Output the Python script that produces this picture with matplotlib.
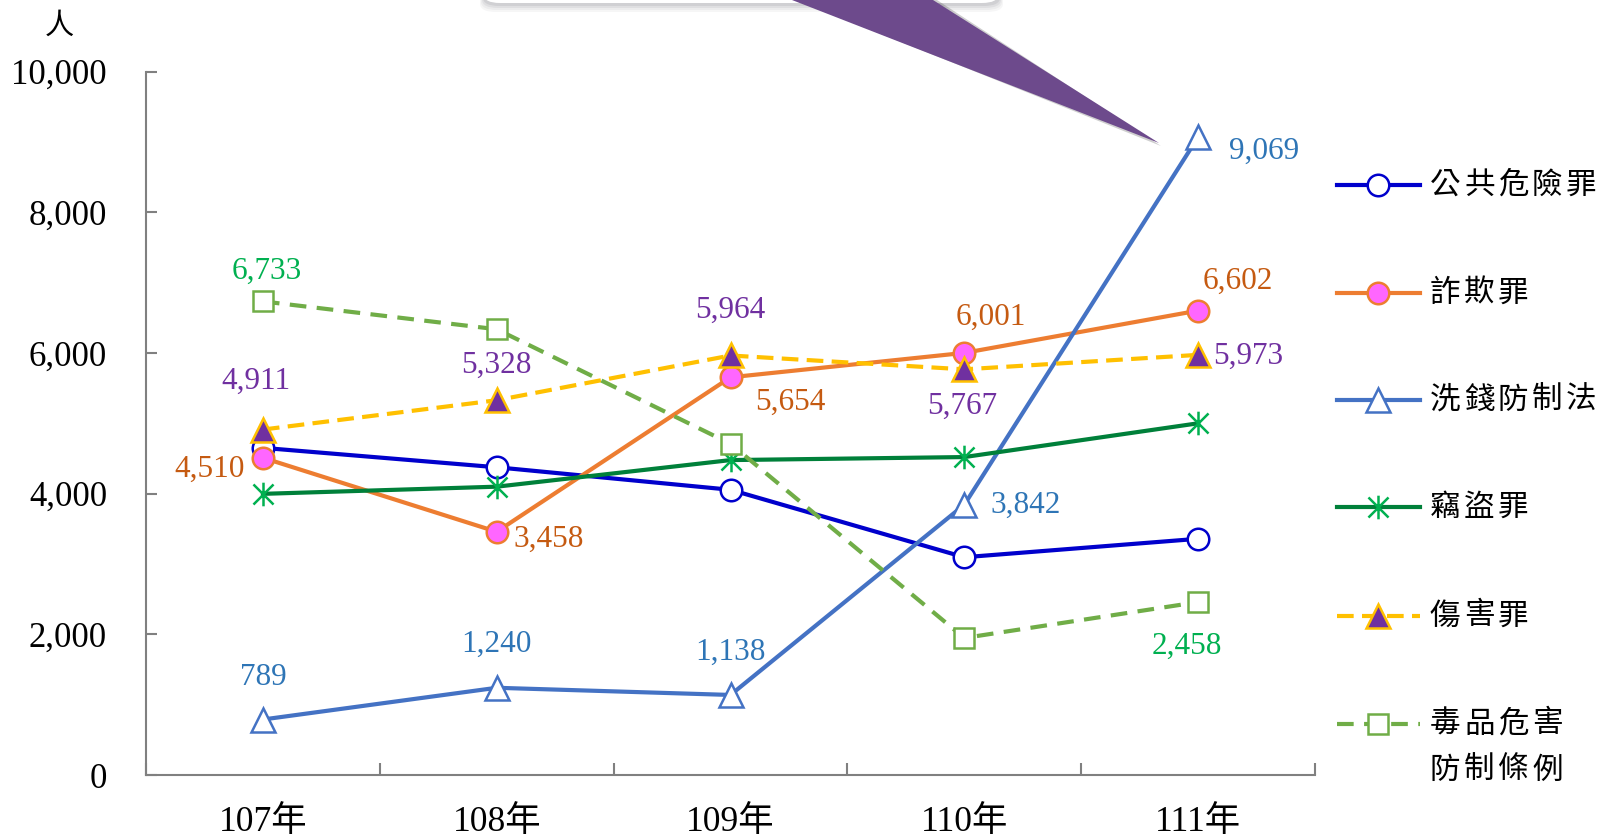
import numpy as np
import matplotlib
matplotlib.use("Agg")
import matplotlib.pyplot as plt
from matplotlib.path import Path
from matplotlib.lines import Line2D
from matplotlib.patches import Polygon, FancyBboxPatch

plt.rcParams['font.family'] = ['Liberation Serif', 'Noto Sans CJK TC', 'DejaVu Sans']
CJK = ['Noto Sans CJK TC', 'DejaVu Sans']

# ---------------------------------------------------------------------
# data
# ---------------------------------------------------------------------
years = ["107年", "108年", "109年", "110年", "111年"]

public_danger = [4651, 4375, 4055, 3096, 3358]      # 公共危險罪 (no labels)
fraud         = [4510, 3458, 5654, 6001, 6602]      # 詐欺罪
money_laund   = [789, 1240, 1138, 3842, 9069]       # 洗錢防制法
theft         = [3997, 4099, 4477, 4520, 5000]      # 竊盜罪 (no labels)
injury        = [4911, 5328, 5964, 5767, 5973]      # 傷害罪
drugs         = [6733, 6337, 4709, 1948, 2458]      # 毒品危害防制條例

names = ["公共危險罪", "詐欺罪", "洗錢防制法", "竊盜罪", "傷害罪", "毒品危害"]

# asterisk marker: vertical bar + X
star = Path([(0, -1), (0, 1), (-0.85, -0.85), (0.85, 0.85), (-0.85, 0.85), (0.85, -0.85)],
            [Path.MOVETO, Path.LINETO, Path.MOVETO, Path.LINETO, Path.MOVETO, Path.LINETO])

styles = [
    dict(color="#0000CC", marker="o", ms=15.5, mfc="white", mec="#0000CC", ls="-"),
    dict(color="#ED7D31", marker="o", ms=15.5, mfc="#FF66FF", mec="#ED7D31", ls="-"),
    dict(color="#4472C4", marker="^", ms=17, mfc="white", mec="#4472C4", ls="-"),
    dict(color="#00803A", marker=star, ms=17, mfc="none", mec="#00B050", ls="-"),
    dict(color="#FFC000", marker="^", ms=17, mfc="#7030A0", mec="#FFC000", ls=(0, (4, 2))),
    dict(color="#70AD47", marker="s", ms=14, mfc="white", mec="#70AD47", ls=(0, (4, 2.5))),
]
series = [public_danger, fraud, money_laund, theft, injury, drugs]

W, H = 1604, 840
fig = plt.figure(figsize=(W / 100, H / 100), dpi=100)
ax = fig.add_axes([146 / W, 1 - 775 / H, (1315 - 146) / W, (775 - 71.6) / H])

x = np.arange(len(years))
for vals, st in zip(series, styles):
    ax.plot(x, vals, color=st["color"], lw=3, ls=st["ls"], marker=st["marker"],
            ms=st["ms"], mfc=st["mfc"], mec=st["mec"], mew=1.8, zorder=3)

# data labels: (series values, color, per-point pixel offsets or None)
label_specs = [
    (fraud, "#C55A11", [(-53, -12), (52, -8), (60, -25), (27, 36), (40, 29)]),
    (money_laund, "#2E75B6", [(0, 42), (0, 43), (0, 43), (61, -1), (66, -14)]),
    (injury, "#7030A0", [(-7, 48), (0, 35), (0, 45), (-2, -37), (50, -1)]),
    (drugs, "#00B050", [(4, 30), None, None, None, (-11, -44)]),
]
for vals, col, offs in label_specs:
    for i, (v, o) in enumerate(zip(vals, offs)):
        if o is None:
            continue
        ax.annotate(f"{v:,}", xy=(i, v), xytext=o, textcoords="offset pixels",
                    ha="center", va="center", fontsize=22.5, color=col, zorder=5)

ax.set_xlim(-0.5, 4.5)
ax.set_ylim(0, 10000)
ax.set_yticks(np.arange(0, 10001, 2000))
ax.set_yticklabels([f"{v:,}" for v in range(0, 10001, 2000)])
ax.set_xticks(x)
ax.set_xticklabels(years)
ax.set_xticks(np.arange(-0.5, 4.6, 1), minor=True)
ax.tick_params(axis="y", direction="in", length=8, width=1.5, color="#808080",
               labelsize=25, pad=28)
ax.tick_params(axis="x", which="major", length=0, labelsize=25.5, pad=22)
ax.tick_params(axis="x", which="minor", direction="in", length=9, width=1.5, color="#808080")
for s in ["top", "right"]:
    ax.spines[s].set_visible(False)
for s in ["left", "bottom"]:
    ax.spines[s].set_color("#808080")
    ax.spines[s].set_linewidth(1.5)

fig.text(59 / W, 1 - 26 / H, "人", fontsize=21, family=CJK, ha="center", va="center")

# ---------------------------------------------------------------------
# legend drawn by hand on the right
# ---------------------------------------------------------------------
def fx(px):
    return px / W


def fy(py):
    return 1 - py / H


def spaced_text(px, py, s, pitch=34):
    # chinese legend text with wide letter spacing
    for k, ch in enumerate(s):
        fig.text(fx(px + k * pitch), fy(py), ch, fontsize=22, family=CJK,
                 ha="left", va="center")


rows = [185, 293, 400, 507, 616, 724]
for name, st, ry in zip(names, styles, rows):
    fig.add_artist(Line2D([fx(1337), fx(1420)], [fy(ry), fy(ry)], color=st["color"],
                          lw=3, ls=st["ls"]))
    fig.add_artist(Line2D([fx(1378)], [fy(ry)], marker=st["marker"], ms=st["ms"],
                          mfc=st["mfc"], mec=st["mec"], mew=1.8, ls="none"))
    spaced_text(1430, ry, name)
spaced_text(1430, 770, "防制條例")

# ---------------------------------------------------------------------
# callout remnant at the top
# ---------------------------------------------------------------------
for k, a in enumerate([0.05, 0.06, 0.08, 0.10]):
    fig.add_artist(FancyBboxPatch((fx(480 + k), fy(4 + 8 - 2 * k)), fx(523 - 2 * k), fy(-40) - fy(0),
                                  boxstyle="round,pad=0,rounding_size=0.01",
                                  transform=fig.transFigure, fc="#505060", ec="none", alpha=a))
fig.add_artist(FancyBboxPatch((fx(484), fy(3)), fx(514), fy(-40) - fy(0),
                              boxstyle="round,pad=0,rounding_size=0.01",
                              transform=fig.transFigure, fc="white", ec="none"))
fig.add_artist(Polygon([(fx(796), fy(0)), (fx(937), fy(0)), (fx(1161), fy(146))],
                       closed=True, transform=fig.transFigure, fc="#404040", ec="none", alpha=0.25))
fig.add_artist(Polygon([(fx(792), fy(0)), (fx(933), fy(0)), (fx(1159), fy(143))],
                       closed=True, transform=fig.transFigure, fc="#6D4A8C", ec="none"))

fig.savefig("out.png", dpi=100)
